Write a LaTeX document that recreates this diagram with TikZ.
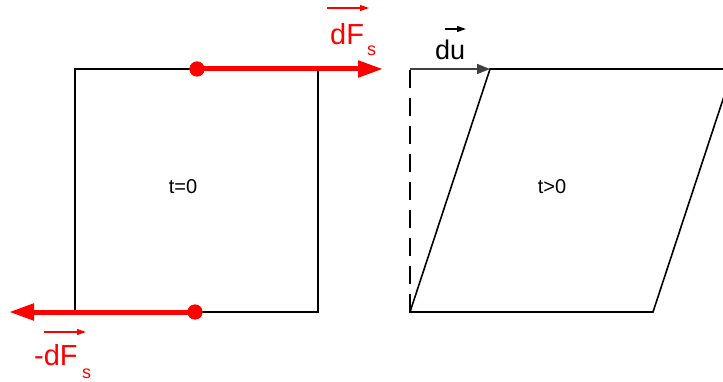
\documentclass[tikz,border=0pt]{standalone}
\usepackage{fontspec}
\setmainfont{Liberation Sans}
\usetikzlibrary{arrows.meta}
\begin{document}
\begin{tikzpicture}[x=1pt,y=-1pt,
  edge/.style={draw=black,line width=1.6pt},
  force/.style={draw=red,line width=5pt,-{Triangle[length=25pt,width=16pt]}},
  fdot/.style={circle,fill=red,inner sep=0pt,minimum size=15pt},
  vecarrow/.style={line width=1.2pt,-{Triangle[length=9pt,width=6pt]}},
  lbl/.style={inner sep=0pt,font=\fontsize{29}{29}\selectfont},
  sub/.style={inner sep=0pt,font=\fontsize{18}{18}\selectfont},
  small/.style={inner sep=0pt,font=\fontsize{20}{20}\selectfont}]
\useasboundingbox (0,0) rectangle (723,382);
% left square corners
\coordinate (A) at (75,69);
\coordinate (B) at (318,69);
\coordinate (C) at (318,312);
\coordinate (D) at (75,312);
\draw[edge] (A) -- (B) -- (C) -- (D) -- cycle;
\node[small] (t0) at (183,187) {t=0};
% forces
\node[fdot] (dtop) at (197,69) {};
\coordinate (ftip) at (383,69);
\draw[force] (dtop.center) -- (ftip);
\node[fdot] (dbot) at (195,312) {};
\coordinate (btip) at (9,312);
\draw[force] (dbot.center) -- (btip);
\node[fdot] at (197,69) {};
\node[fdot] at (195,312) {};
% labels
\node[lbl,text=red,anchor=base west] (dF) at (330,45) {dF};
\node[sub,text=red,anchor=base west] (s1) at (367,56) {s};
\coordinate (v1a) at (327,8);
\coordinate (v1b) at (369,8);
\draw[vecarrow,red] (v1a) -- (v1b);
\node[lbl,text=red,anchor=base west] (mdF) at (34,365) {-dF};
\node[sub,text=red,anchor=base west] (s2) at (82,378) {s};
\coordinate (v2a) at (44,332);
\coordinate (v2b) at (86,332);
\draw[vecarrow,red] (v2a) -- (v2b);
% right parallelogram
\coordinate (P1) at (410,312);
\coordinate (P2) at (490,69);
\coordinate (P3) at (733,69);
\coordinate (P4) at (653,312);
\coordinate (Q) at (410,69);
\begin{scope}
\clip (0,0) rectangle (723,382);
\draw[edge] (P1) -- (P2) -- (P3) -- (P4) -- cycle;
\end{scope}
\draw[line width=1.6pt,dash pattern=on 18pt off 10pt] (P1) -- (Q);
\draw[line width=1.6pt,draw=black!75,-{Triangle[length=13pt,width=10pt]}] (Q) -- (P2);
\node[small] (tg) at (552,187) {t>0};
\node[lbl,anchor=base west,font=\fontsize{27}{27}\selectfont] (du) at (435,60) {du};
\coordinate (v3a) at (445,29);
\coordinate (v3b) at (466,29);
\draw[vecarrow,black] (v3a) -- (v3b);
\end{tikzpicture}
\end{document}
